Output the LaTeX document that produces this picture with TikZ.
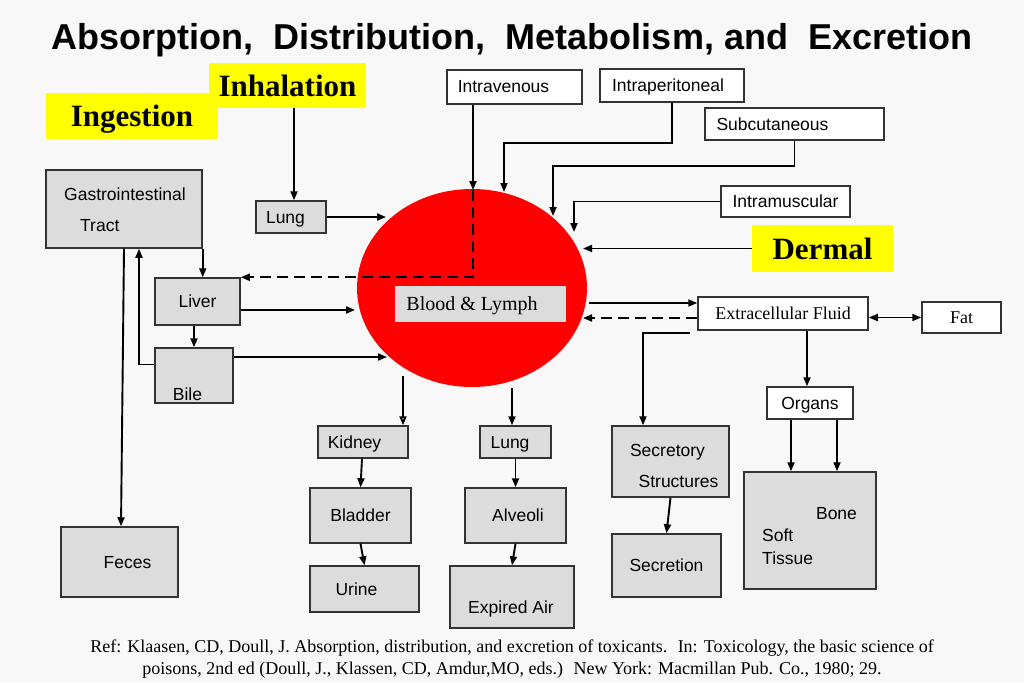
\documentclass[tikz,border=0pt]{standalone}
\usepackage{fontspec}
\setmainfont{Liberation Serif}
\setsansfont{Liberation Sans}
\usetikzlibrary{arrows.meta,positioning,shapes.geometric}
\definecolor{pagebg}{HTML}{F8F8F8}
\definecolor{boxgray}{HTML}{DCDCDC}
\definecolor{edge}{HTML}{333333}
\definecolor{hilite}{HTML}{FFFF00}
\definecolor{plasma}{HTML}{FF0000}

\begin{document}
\begin{tikzpicture}[x=1pt,y=-1pt,
  lbl/.style={font=\sffamily\fontsize{17.5}{21}\selectfont,inner sep=0pt,
              text height=12pt,text depth=0pt},
  gbox/.style={lbl,draw=edge,fill=boxgray,line width=1.5pt},
  wbox/.style={lbl,draw=edge,fill=white,line width=1.5pt},
  serif/.style={font=\rmfamily\fontsize{18}{22}\selectfont,inner sep=0pt,
                text height=12pt,text depth=0pt},
  route/.style={font=\rmfamily\bfseries\fontsize{31}{36}\selectfont,fill=hilite,
                inner sep=0pt,text height=21pt,text depth=0pt},
  wh/.style 2 args={minimum width=#1pt,minimum height=#2pt},
  arr/.style={-{Triangle[length=9pt,width=7pt]},line width=1.9pt},
  darr/.style={arr,dash pattern=on 11pt off 6pt}
]
\useasboundingbox (0,0) rectangle (1024,682);
\fill[pagebg] (0,0) rectangle (1024,682);

% title and routes of entry
\node[font=\sffamily\bfseries\fontsize{36}{40}\selectfont,anchor=base] (title) at (512,50)
  {Absorption,~ Distribution,~ Metabolism, and~ Excretion};
\node[route,wh={157}{45}] (inhal) at (287.5,85.5) {Inhalation};
\node[route,wh={172}{46}] (inges) at (132,116) {Ingestion};
\node[route,wh={141}{47}] (dermal) at (822.5,248.5) {Dermal};
\node[wbox,wh={135}{34}] (iv) at (514.5,87) {Intravenous\hspace*{22pt}};
\node[wbox,wh={144}{33}] (ip) at (672,85.5) {Intraperitoneal\hspace*{8pt}};
\node[wbox,wh={179}{32}] (sc) at (794.5,124) {Subcutaneous\hspace*{44pt}};
\node[wbox,wh={129}{31}] (im) at (785.5,201.5) {Intramuscular};

% blood
\node[ellipse,fill=plasma,inner sep=0pt,wh={230}{198}] (ell) at (472,288) {};
\node[serif,fill=boxgray,font=\rmfamily\fontsize{20}{24}\selectfont,wh={171}{36}] (blood) at (480.5,304)
  {Blood \& Lymph\hspace*{17pt}};

% left side
\node[gbox,wh={156}{78}] (gi) at (124,209) {};
\node[lbl,anchor=west] (gi-t1) at (64,194) {Gastrointestinal};
\node[lbl,anchor=west] (gi-t2) at (80,225) {Tract};
\node[gbox,wh={70}{32}] (lungA) at (291,217) {Lung\hspace*{11pt}};
\node[gbox,wh={85}{47}] (liver) at (197.5,301.5) {Liver};
\node[gbox,wh={78}{55}] (bile) at (194,375.5) {};
\node[lbl] (bile-t) at (187.5,394) {Bile};
\node[gbox,wh={117}{70}] (feces) at (119.5,562) {\hspace*{16pt}Feces};

% excretion below
\node[gbox,wh={90}{32}] (kidney) at (363,442) {Kidney\hspace*{17pt}};
\node[gbox,wh={101}{55}] (bladder) at (360.5,515.5) {Bladder};
\node[gbox,wh={109}{46}] (urine) at (364.5,589) {Urine\hspace*{16pt}};
\node[gbox,wh={71}{32}] (lungB) at (515.5,442) {Lung\hspace*{11pt}};
\node[gbox,wh={101}{55}] (alveoli) at (515.5,515.5) {\hspace*{5pt}Alveoli};
\node[gbox,wh={124}{62}] (expired) at (512,597) {};
\node[lbl] (expired-t) at (511,607) {Expired Air};

% right side
\node[wbox,serif,wh={170}{33}] (ecf) at (783,313.5) {Extracellular Fluid};
\node[wbox,serif,wh={79}{31}] (fat) at (961.5,317.5) {Fat};
\node[wbox,wh={86}{32}] (organs) at (810,403) {Organs};
\node[gbox,wh={117}{71}] (secr) at (670.5,461.5) {};
\node[lbl] (secr-t1) at (667.5,450) {Secretory};
\node[lbl] (secr-t2) at (678.5,481) {Structures};
\node[gbox,wh={109}{63}] (secn) at (666.5,565.5) {Secretion};
\node[gbox,wh={132}{117}] (tissue) at (810,530.5) {};
\node[lbl] (tissue-t1) at (836.5,513) {Bone};
\node[lbl,anchor=west] (tissue-t2) at (762,535) {Soft};
\node[lbl,anchor=west] (tissue-t3) at (762,558) {Tissue};

% reference
\node[font=\rmfamily\fontsize{18}{22}\selectfont,align=center] (ref) at (512,659)
  {Ref: Klaasen, CD, Doull, J. Absorption, distribution, and excretion of toxicants.~ In: Toxicology, the basic science of\\
   poisons, 2nd ed (Doull, J., Klassen, CD, Amdur,MO, eds.)~ New York: Macmillan Pub. Co., 1980; 29.};

% ends on the blood ellipse
\coordinate (ivin) at (473,190);
\coordinate (ipin) at (504,192);
\coordinate (scin) at (553,216);
\coordinate (imin) at (574,232);
\coordinate (dermin) at (583,248.5);
\coordinate (lungin) at (386,217);
\coordinate (livin) at (355,310);
\coordinate (bilein) at (387,357);
\coordinate (kidout) at (403,376);
\coordinate (lungout) at (512,388);
\coordinate (ecfout) at (589,303);
\coordinate (ecfin) at (583,318);
\coordinate (ecfsec) at (690,333);

% connectors
\draw[arr] ([xshift=6.5pt]inhal.south) -- ([xshift=6.5pt]inhal.south |- lungA.north);
\draw[arr] (lungA.east) -- (lungin);
\draw[arr] (iv.south -| ivin) -- (ivin);
\draw[darr] (ivin) -- (ivin |- liver.north) -- (liver.north east);
\draw[arr] (ip.south) -- ++(0,40) -| (ipin);
\draw[arr] (sc.south) -- ++(0,25) -| (scin);
\draw[arr] (im.west) -| (imin);
\draw[arr] (dermal.west) -- (dermin);
\draw[arr] (gi.south east) -- (gi.south east |- liver.north);
\draw[arr] ([yshift=11pt]bile.west) -| ([xshift=15pt]gi.south);
\draw[arr] (gi.south) -- ([xshift=1.5pt]feces.north);
\draw[arr] (liver.south -| bile.north) -- (bile.north);
\draw[arr] (liver.east |- livin) -- (livin);
\draw[arr] (bile.east |- bilein) -- (bilein);
\draw[-{Triangle[open,length=9pt,width=7pt]},line width=1.9pt] (kidout) -- (kidout |- kidney.north);
\draw[arr] (lungout) -- (lungout |- lungB.north);
\draw[arr] ([xshift=-1pt]kidney.south) -- (bladder.north);
\draw[arr] (bladder.south) -- (urine.north);
\draw[arr] (lungB.south) -- (alveoli.north);
\draw[arr] (alveoli.south) -- (expired.north);
\draw[arr] (ecfout) -- (ecf.west |- ecfout);
\draw[darr] (ecf.west |- ecfin) -- (ecfin);
\draw[{Triangle[length=9pt,width=7pt]}-{Triangle[length=9pt,width=7pt]},line width=1.9pt]
  (ecf.east |- fat.west) -- (fat.west);
\draw[arr] (ecfsec) -| ([xshift=-27.5pt]secr.north);
\draw[arr] ([xshift=24pt]ecf.south) -- ([xshift=24pt]ecf.south |- organs.north);
\draw[arr] ([xshift=-19pt]organs.south) -- ([xshift=-19pt]organs.south |- tissue.north);
\draw[arr] ([xshift=27pt]organs.south) -- ([xshift=27pt]organs.south |- tissue.north);
\draw[arr] (secr.south) -- (secn.north);
\end{tikzpicture}
\end{document}
